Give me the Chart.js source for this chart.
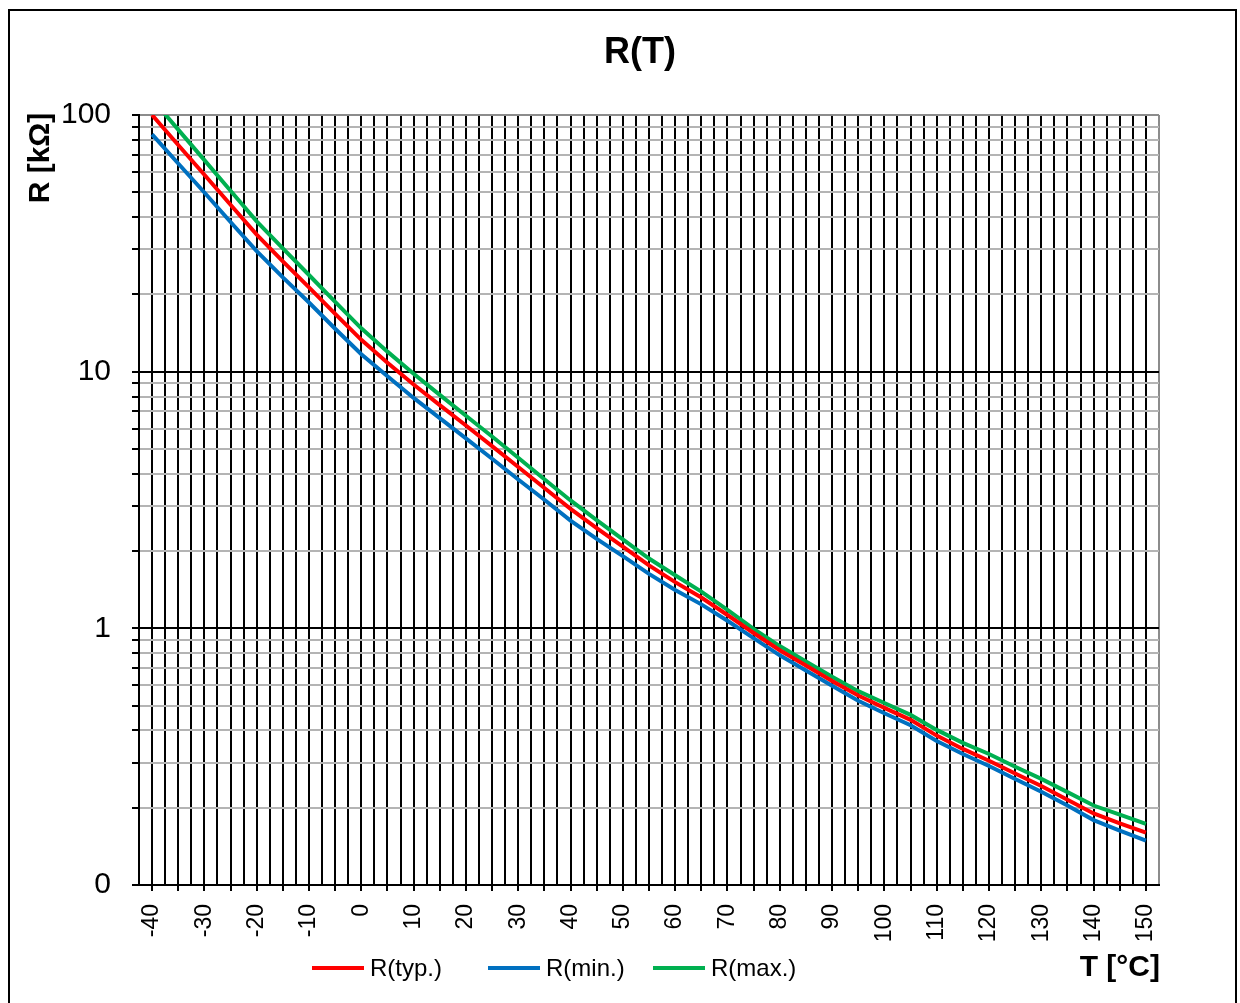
<!DOCTYPE html>
<html>
<head>
<meta charset="utf-8">
<script src="https://cdn.jsdelivr.net/npm/chart.js@4/dist/chart.umd.min.js"></script>
<style>
  html, body { margin: 0; padding: 0; overflow: hidden; background: #fff; }
  body { width: 1240px; height: 1003px; position: relative; font-family: "Liberation Sans", Arial, sans-serif; color: #000; }
  #frame { position: absolute; left: 8px; top: 9px; width: 1225px; height: 1010px; border: 2px solid #000; }
  #wrap { position: absolute; left: 0; top: 0; width: 1240px; height: 1003px; }
  .lbl { position: absolute; white-space: nowrap; }
  #title { left: 540px; top: 33px; width: 200px; text-align: center; font-size: 36px; line-height: 36px; font-weight: bold; }
  #ytitle { left: -21px; top: 141px; width: 120px; height: 34px; line-height: 34px; text-align: center; font-size: 30px; font-weight: bold; transform: rotate(-90deg); }
  #xtitle { left: 1000px; top: 951px; width: 160px; text-align: right; font-size: 30px; line-height: 30px; font-weight: bold; }
  .leg { position: absolute; top: 955px; height: 26px; display: flex; align-items: center; font-size: 24px; }
  .leg span.s { display: inline-block; width: 52px; height: 4px; margin-right: 6px; }
</style>
</head>
<body>
<div id="wrap"><canvas id="rtChart"></canvas></div>
<div id="frame"></div>
<div class="lbl" id="title">R(T)</div>
<div class="lbl" id="ytitle">R [kΩ]</div>
<div class="lbl" id="xtitle">T [°C]</div>
<div class="leg" style="left:312px"><span class="s" style="background:#ff0000"></span>R(typ.)</div>
<div class="leg" style="left:488px"><span class="s" style="background:#0070c0"></span>R(min.)</div>
<div class="leg" style="left:653px"><span class="s" style="background:#00b050"></span>R(max.)</div>
<script>
const temps = [-40, -35, -30, -25, -20, -15, -10, -5, 0, 5, 10, 15, 20, 25, 30, 35, 40, 45, 50, 55,
  60, 65, 70, 75, 80, 85, 90, 95, 100, 105, 110, 115, 120, 125, 130, 135, 140, 145, 150];

// resistance in kOhm
const rTyp = [100, 76.4, 58.5, 44.7, 34.2, 26.9, 21.3, 16.8, 13.3, 10.84, 8.91, 7.41, 6.17, 5.13, 4.25, 3.52,
  2.92, 2.455, 2.08, 1.758, 1.514, 1.318, 1.127, 0.959, 0.822, 0.716, 0.624, 0.547, 0.49, 0.44, 0.382,
  0.339, 0.305, 0.272, 0.243, 0.215, 0.19, 0.174, 0.16];
const rMin = [84.1, 64.7, 49.9, 38.3, 29.5, 23.3, 18.6, 14.7, 11.7, 9.59, 7.9, 6.59, 5.5, 4.58, 3.8, 3.17,
  2.63, 2.23, 1.91, 1.63, 1.41, 1.24, 1.07, 0.916, 0.785, 0.685, 0.597, 0.522, 0.467, 0.419, 0.364,
  0.324, 0.291, 0.259, 0.231, 0.204, 0.179, 0.163, 0.149];
const rMax = [115.3, 87.7, 66.7, 50.7, 38.5, 30.2, 23.8, 18.7, 14.75, 11.97, 9.82, 8.12, 6.73, 5.59, 4.62, 3.81,
  3.15, 2.64, 2.22, 1.87, 1.61, 1.39, 1.18, 0.995, 0.853, 0.743, 0.648, 0.569, 0.512, 0.46, 0.402,
  0.358, 0.324, 0.289, 0.259, 0.23, 0.204, 0.188, 0.173];

const yTicks = [0.1, 0.2, 0.3, 0.4, 0.5, 0.6, 0.7, 0.8, 0.9, 1, 2, 3, 4, 5, 6, 7, 8, 9,
  10, 20, 30, 40, 50, 60, 70, 80, 90, 100];
const yMajor = [0.1, 1, 10, 100];
const yMajorLabels = ["0", "1", "10", "100"];

const xMin = -42.5, xMax = 152.5, xStep = 2.5;

function pts(arr) {
  return temps.map((t, i) => ({ x: t, y: arr[i] }));
}

const ctx = document.getElementById("rtChart").getContext("2d");

const rtChart = new Chart(ctx, {
  type: "line",
  data: {
    datasets: [
      { label: "R(typ.)", data: pts(rTyp), borderColor: "#ff0000", borderWidth: 4, pointRadius: 0, tension: 0 },
      { label: "R(min.)", data: pts(rMin), borderColor: "#0070c0", borderWidth: 4, pointRadius: 0, tension: 0 },
      { label: "R(max.)", data: pts(rMax), borderColor: "#00b050", borderWidth: 4, pointRadius: 0, tension: 0 }
    ]
  },
  options: {
    responsive: true,
    maintainAspectRatio: false,
    animation: false,
    layout: { padding: { top: 115, right: 81, bottom: 0, left: 0 } },
    plugins: {
      legend: { display: false },
      title: { display: false },
      tooltip: { enabled: false }
    },
    scales: {
      x: {
        type: "linear",
        min: xMin,
        max: xMax,
        afterFit: function (scale) { scale.height = 118; },
        afterBuildTicks: function (scale) {
          const t = [];
          for (let v = xMin; v <= xMax + 0.001; v += xStep) t.push({ value: v });
          scale.ticks = t;
        },
        border: { color: "#000", width: 2 },
        grid: {
          lineWidth: 2,
          tickLength: 6,
          color: function (c) {
            return c.tick && c.tick.value === xMax ? "#8c8c8c" : "#000";
          },
          tickColor: function (c) {
            return c.tick && c.tick.value % 5 === 0 ? "#000" : "rgba(0,0,0,0)";
          }
        },
        ticks: {
          autoSkip: false,
          minRotation: 90,
          maxRotation: 90,
          padding: 13,
          color: "#000",
          font: { family: "Liberation Sans", size: 23 },
          callback: function (value) {
            return value % 10 === 0 ? String(value) : "";
          }
        }
      },
      y: {
        type: "logarithmic",
        min: 0.1,
        max: 100,
        z: -1,
        afterFit: function (scale) { scale.width = 139; },
        afterBuildTicks: function (scale) {
          scale.ticks = yTicks.map(v => ({ value: v }));
        },
        border: { color: "#000", width: 2 },
        grid: {
          lineWidth: 2,
          tickLength: 7,
          color: function (c) {
            if (!c.tick) return "#b4b4b4";
            if (c.tick.value === 100) return "#8c8c8c";
            return yMajor.includes(c.tick.value) ? "#000" : "#b4b4b4";
          },
          tickColor: "#000"
        },
        ticks: {
          autoSkip: false,
          padding: 21,
          color: "#000",
          font: { family: "Liberation Sans", size: 30 },
          callback: function (value) {
            const i = yMajor.indexOf(value);
            return i >= 0 ? yMajorLabels[i] : "";
          }
        }
      }
    }
  }
});
</script>
</body>
</html>
